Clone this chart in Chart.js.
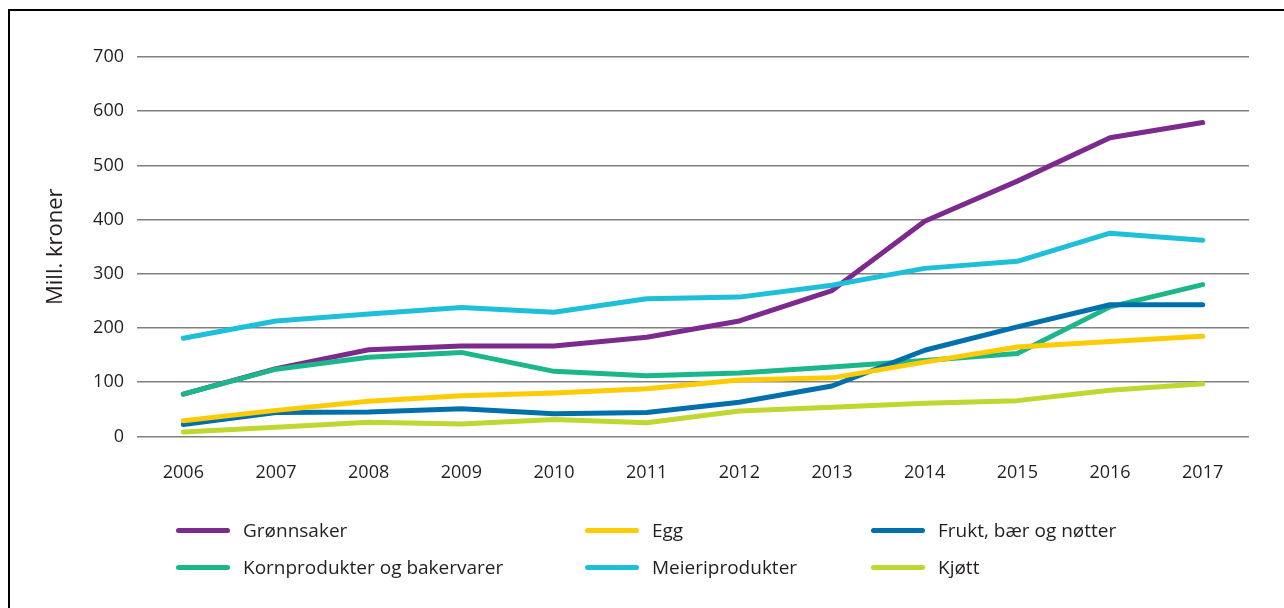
<!DOCTYPE html>
<html>
<head>
<meta charset="utf-8">
<script src="https://cdn.jsdelivr.net/npm/chart.js@4/dist/chart.umd.min.js"></script>
<style>
  html, body { margin: 0; padding: 0; background: #fff; }
  body { width: 1284px; height: 608px; position: relative; overflow: hidden; font-family: "Open Sans", sans-serif; }
  #frame { position: absolute; left: 8px; top: 9px; width: 1400px; height: 700px; border-top: 2.5px solid #000; border-left: 2.5px solid #000; }
  #wrap { position: absolute; left: 0; top: 0; width: 1284px; height: 608px; }
  .leg { position: absolute; height: 24px; display: flex; align-items: center; font-size: 19px; color: #231f20; white-space: nowrap; }
  .leg .sw { width: 54px; height: 5px; border-radius: 3px; margin-right: 13px; }
</style>
</head>
<body>
<div id="frame"></div>
<div id="wrap"><canvas id="chart" width="1284" height="608"></canvas></div>
<div id="legend"></div>
<script>
// kategorier og serier
const years = ['2006', '2007', '2008', '2009', '2010', '2011', '2012', '2013', '2014', '2015', '2016', '2017'];
const gronnsaker = [78, 125, 160, 167, 167, 183, 213, 269, 397, 471, 551, 579];
const egg = [29, 48, 65, 75, 80, 88, 104, 108, 137, 165, 175, 185];
const frukt = [22, 44, 45, 51, 42, 44, 63, 93, 159, 202, 243, 243];
const korn = [78, 124, 146, 155, 120, 112, 117, 128, 140, 153, 239, 280];
const meieri = [181, 213, 226, 238, 229, 254, 257, 279, 310, 323, 375, 362];
const kjott = [8, 17, 26, 23, 31, 25, 47, 54, 61, 66, 85, 97];
const yTicks = [0, 100, 200, 300, 400, 500, 600, 700];

function serie(label, data, color, order) {
    return {
        label: label,
        data: data,
        borderColor: color,
        backgroundColor: color,
        borderWidth: 5,
        borderCapStyle: 'round',
        borderJoinStyle: 'round',
        pointRadius: 0,
        pointHoverRadius: 0,
        tension: 0,
        fill: false,
        order: order
    };
}

const datasets = [
    serie('Grønnsaker', gronnsaker, '#7d2a8f', 5),
    serie('Egg', egg, '#ffcb05', 1),
    serie('Frukt, bær og nøtter', frukt, '#0070ac', 2),
    serie('Kornprodukter og bakervarer', korn, '#1bb68a', 3),
    serie('Meieriprodukter', meieri, '#1ebfd8', 0),
    serie('Kjøtt', kjott, '#bfd730', 4)
];

const chart = new Chart(document.getElementById('chart'), {
    type: 'line',
    data: { labels: years, datasets: datasets },
    options: {
        responsive: false,
        animation: false,
        layout: { padding: { top: 57, right: 35, bottom: 106, left: 0 } },
        plugins: { legend: { display: false }, tooltip: { enabled: false } },
        scales: {
            x: {
                offset: true,
                grid: { display: false },
                border: { display: false },
                ticks: { color: '#231f20', padding: 18, font: { family: 'Open Sans', size: 18 } }
            },
            y: {
                min: 0,
                max: 700,
                afterFit: s => { s.width = 137; },
                afterBuildTicks: s => { s.ticks = yTicks.map(v => ({ value: v })); },
                grid: { color: '#808080', lineWidth: 1.5, drawTicks: false },
                border: { display: false },
                ticks: { color: '#231f20', padding: 13, font: { family: 'Open Sans', size: 18 } },
                title: {
                    display: true,
                    text: 'Mill. kroner',
                    color: '#231f20',
                    padding: { top: 43, bottom: 0 },
                    font: { family: 'Open Sans', size: 22 }
                }
            }
        }
    }
});

// forklaring i tre kolonner
const legX = [176, 585, 871];
const legY = [518, 555];
const legend = document.getElementById('legend');
chart.data.datasets.forEach((ds, i) => {
    const item = document.createElement('div');
    item.className = 'leg';
    item.style.left = legX[i % 3] + 'px';
    item.style.top = legY[Math.floor(i / 3)] + 'px';
    item.innerHTML = `<span class="sw" style="background:${ds.borderColor}"></span><span>${ds.label}</span>`;
    legend.appendChild(item);
});
</script>
</body>
</html>
